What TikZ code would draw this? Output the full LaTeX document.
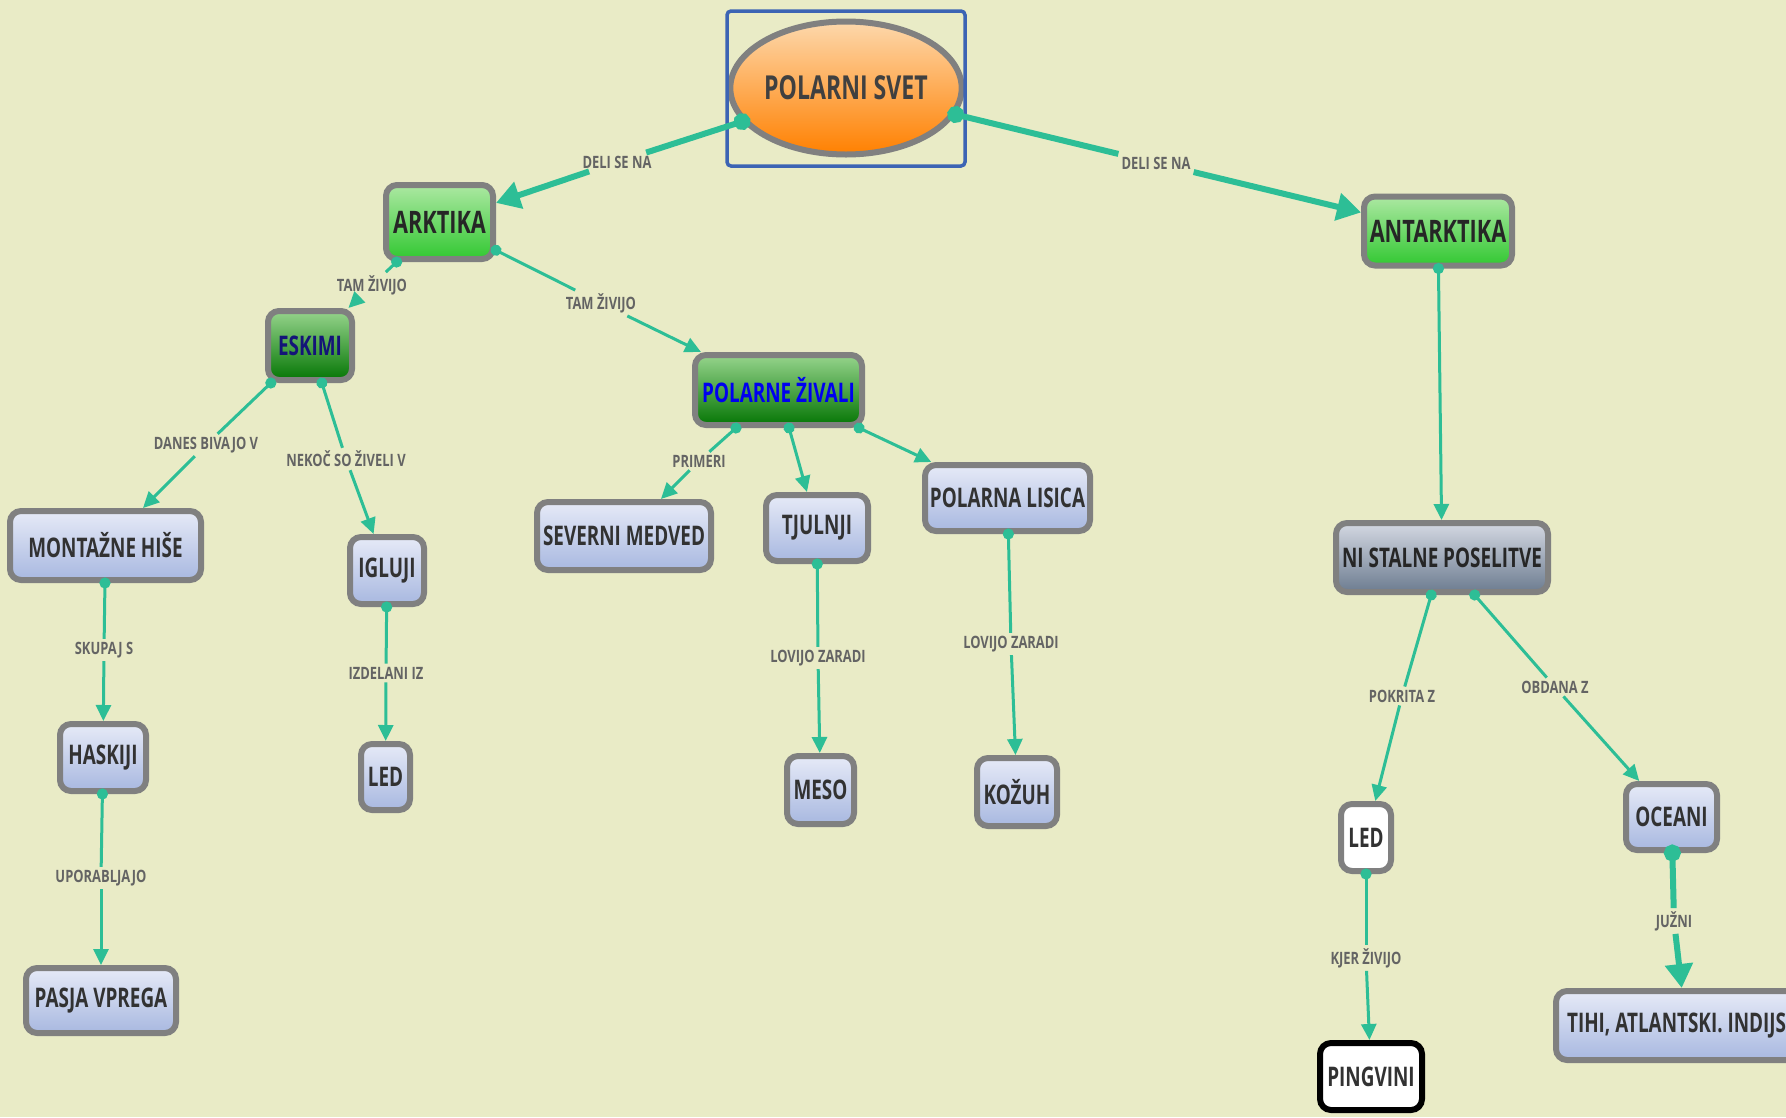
\documentclass[tikz,border=0pt]{standalone}
\usepackage{fontspec}
\setmainfont{Open Sans}[FakeStretch=0.7]
\newfontfamily\lblfont{Open Sans}[FakeStretch=0.76]
\frenchspacing
\usetikzlibrary{arrows.meta,shapes.geometric}
\definecolor{bgcol}{RGB}{233,235,198}
\definecolor{edgecol}{RGB}{45,190,150}
\definecolor{bordergray}{RGB}{128,128,128}
\definecolor{lavtop}{RGB}{230,234,247}
\definecolor{lavbot}{RGB}{168,184,224}
\definecolor{greentop}{RGB}{172,232,162}
\definecolor{greenbot}{RGB}{50,200,50}
\definecolor{dgreentop}{RGB}{150,212,140}
\definecolor{dgreenbot}{RGB}{5,118,5}
\definecolor{graytop}{RGB}{212,216,226}
\definecolor{graybot}{RGB}{108,124,144}
\definecolor{orangetop}{RGB}{253,216,172}
\definecolor{orangebot}{RGB}{255,128,0}
\definecolor{framblue}{RGB}{60,100,180}
\definecolor{txtdark}{RGB}{50,50,50}
\definecolor{lblgray}{RGB}{100,100,100}
\definecolor{eskblue}{RGB}{20,20,120}
\definecolor{pzblue}{RGB}{0,0,240}
\tikzset{
  cnode/.style={draw=bordergray, line width=6pt, rounded corners=11pt, inner sep=0pt, align=center},
  lav/.style={cnode, top color=lavtop, bottom color=lavbot, text=txtdark, font=\fontsize{27}{30}\selectfont\bfseries},
  grn/.style={cnode, top color=greentop, bottom color=greenbot, text=black!85, font=\fontsize{31}{34}\selectfont\bfseries},
  dgrn/.style={cnode, top color=dgreentop, bottom color=dgreenbot, font=\fontsize{27}{30}\selectfont\bfseries},
  gry/.style={cnode, top color=graytop, bottom color=graybot, text=black!85, font=\fontsize{27}{30}\selectfont\bfseries},
  wht/.style={cnode, fill=white, text=txtdark, font=\fontsize{27}{30}\selectfont\bfseries},
  lbl/.style={font=\lblfont\fontsize{17}{19}\selectfont\bfseries, text=lblgray, inner sep=3pt},
  thinsrc/.style={draw=edgecol, line width=3pt, {Circle[length=11pt]}-, shorten <=-5.5pt},
  thintgt/.style={draw=edgecol, line width=3pt, -{Triangle[length=16pt,width=15pt]}},
  thinfull/.style={draw=edgecol, line width=3pt, {Circle[length=11pt]}-{Triangle[length=16pt,width=15pt]}, shorten <=-5.5pt},
  thicksrc/.style={draw=edgecol, line width=6pt, {Circle[length=17pt]}-, shorten <=-8.5pt},
  thicktgt/.style={draw=edgecol, line width=6pt, -{Triangle[length=24pt,width=27pt]}},
}
\begin{document}
\begin{tikzpicture}[x=1pt,y=-1pt]
\fill[bgcol] (0,0) rectangle (1786,1117);
\useasboundingbox (0,0) rectangle (1786,1117);
\clip (0,0) rectangle (1786,1117);

% concepts
\node[ellipse, draw=bordergray, line width=6pt, top color=orangetop, bottom color=orangebot,
      minimum width=223pt, minimum height=133pt, inner sep=0pt, text=black!75,
      font=\fontsize{33}{36}\selectfont\bfseries] (ps) at (846,88) {POLARNI SVET};
\draw[framblue, line width=3.5pt, rounded corners=4pt] (727,11) rectangle (965,166);

\node[grn, minimum width=107pt, minimum height=74pt] (ark) at (439.5,222) {ARKTIKA};
\node[grn, minimum width=148pt, minimum height=69pt] (ant) at (1438,231) {ANTARKTIKA};
\node[dgrn, text=eskblue, minimum width=84pt, minimum height=69pt] (esk) at (310,345.5) {ESKIMI};
\node[dgrn, text=pzblue, minimum width=167pt, minimum height=70pt] (pz) at (778.5,390) {POLARNE ŽIVALI};
\node[gry, minimum width=212pt, minimum height=69pt] (nsp) at (1442,557.5) {NI STALNE POSELITVE};

\node[lav, minimum width=191pt, minimum height=69pt] (mh) at (105.5,545.5) {MONTAŽNE HIŠE};
\node[lav, minimum width=74pt, minimum height=67pt] (igl) at (387,570.5) {IGLUJI};
\node[lav, minimum width=174pt, minimum height=68pt] (sm) at (624,536) {SEVERNI MEDVED};
\node[lav, minimum width=102pt, minimum height=66pt] (tj) at (817,528) {TJULNJI};
\node[lav, minimum width=165pt, minimum height=66pt] (pl) at (1007.5,498) {POLARNA LISICA};
\node[lav, minimum width=86pt, minimum height=67pt] (has) at (103,757.5) {HASKIJI};
\node[lav, minimum width=49pt, minimum height=66pt] (led1) at (385.5,777) {LED};
\node[lav, minimum width=67pt, minimum height=68pt] (meso) at (820.5,790) {MESO};
\node[lav, minimum width=80pt, minimum height=68pt] (koz) at (1017,792) {KOŽUH};
\node[lav, minimum width=150pt, minimum height=65pt] (pv) at (101,1000.5) {PASJA VPREGA};
\node[wht, minimum width=50pt, minimum height=67pt] (led2) at (1366,837.5) {LED};
\node[lav, minimum width=91pt, minimum height=66pt] (oce) at (1671.5,817) {OCEANI};
\node[wht, draw=black, minimum width=102pt, minimum height=67pt] (ping) at (1371,1076.5) {PINGVINI};
\node[lav, minimum width=260pt, minimum height=69pt] (tihi) at (1686,1025.5) {TIHI, ATLANTSKI. INDIJSKI};

% linking phrases
\node[lbl] (l1) at (617,162) {DELI SE NA};
\node[lbl] (l2) at (1156,163) {DELI SE NA};
\node[lbl] (l3) at (372,285) {TAM ŽIVIJO};
\node[lbl] (l4) at (601,303) {TAM ŽIVIJO};
\node[lbl] (l5) at (206,445) {DANES BIVAJO V};
\node[lbl] (l6) at (346,459) {NEKOČ SO ŽIVELI V};
\node[lbl] (l7) at (699,461) {PRIMERI};
\node[lbl] (l10) at (104,650) {SKUPAJ S};
\node[lbl] (l11) at (386,673) {IZDELANI IZ};
\node[lbl] (l12) at (101,878) {UPORABLJAJO};
\node[lbl] (l13) at (818,658) {LOVIJO ZARADI};
\node[lbl] (l14) at (1011,644) {LOVIJO ZARADI};
\node[lbl] (l16) at (1402,696) {POKRITA Z};
\node[lbl] (l17) at (1555,687) {OBDANA Z};
\node[lbl] (l18) at (1366,958) {KJER ŽIVIJO};
\node[lbl] (l19) at (1674,921) {JUŽNI};

% connectors
\draw[thicksrc] (ps) -- (l1);  \draw[thicktgt] (l1) -- (ark);
\draw[thicksrc] (ps) -- (l2);  \draw[thicktgt] (l2) -- (ant);
\draw[thinsrc] (ark) -- (l3);  \draw[thintgt] (l3) -- (esk);
\draw[thinsrc] (ark) -- (l4);  \draw[thintgt] (l4) -- (pz);
\draw[thinsrc] (esk) -- (l5);  \draw[thintgt] (l5) -- (mh);
\draw[thinsrc] (esk) -- (l6);  \draw[thintgt] (l6) -- (igl);
\draw[thinsrc] (pz) -- (l7);   \draw[thintgt] (l7) -- (sm);
\draw[thinfull] (pz) -- (tj);
\draw[thinfull] (pz) -- (pl);
\draw[thinsrc] (mh) -- (l10);  \draw[thintgt] (l10) -- (has);
\draw[thinsrc] (igl) -- (l11); \draw[thintgt] (l11) -- (led1);
\draw[thinsrc] (has) -- (l12); \draw[thintgt] (l12) -- (pv);
\draw[thinsrc] (tj) -- (l13);  \draw[thintgt] (l13) -- (meso);
\draw[thinsrc] (pl) -- (l14);  \draw[thintgt] (l14) -- (koz);
\draw[thinfull] (ant) -- (nsp);
\draw[thinsrc] (nsp) -- (l16); \draw[thintgt] (l16) -- (led2);
\draw[thinsrc] (nsp) -- (l17); \draw[thintgt] (l17) -- (oce);
\draw[thinsrc] (led2) -- (l18); \draw[thintgt] (l18) -- (ping);
\draw[thicksrc] (oce) -- (l19); \draw[thicktgt] (l19) -- (tihi);
\end{tikzpicture}
\end{document}
